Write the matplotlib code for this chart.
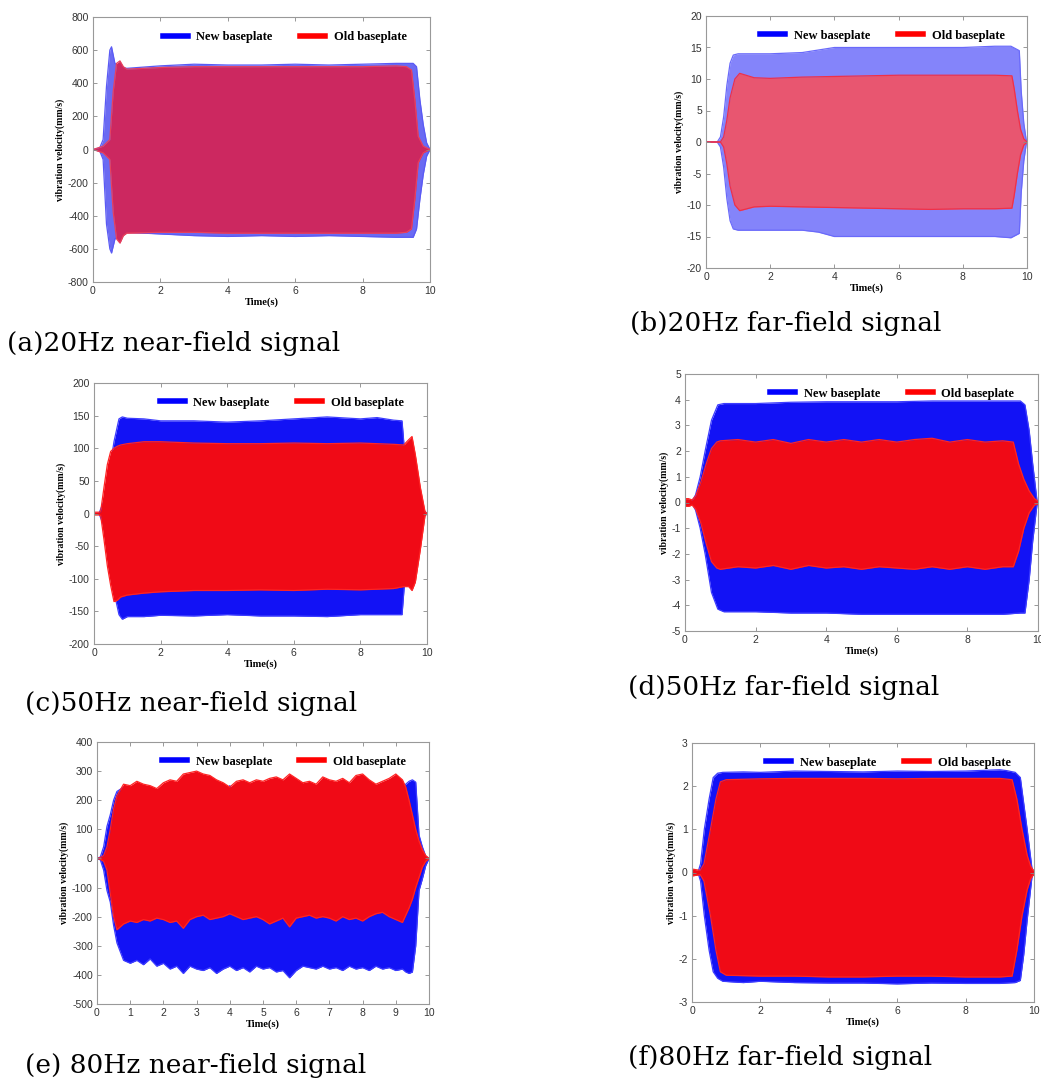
import matplotlib.pyplot as plt
from matplotlib.lines import Line2D

# envelope of each record: time (s), upper peak, lower peak
# (a) 20Hz near-field
t_a_new = [0, 0.2, 0.3, 0.4, 0.5, 0.55, 0.65, 0.8, 1, 2, 3, 4, 5, 6, 7, 8, 9, 9.5, 9.6, 9.7, 9.8, 9.9, 10]
up_a_new = [0, 10, 60, 380, 600, 620, 520, 500, 490, 505, 515, 510, 510, 515, 510, 515, 520, 520, 500, 300, 150, 40, 0]
lo_a_new = [0, -10, -60, -450, -600, -625, -540, -520, -500, -510, -520, -525, -520, -525, -520, -525, -530, -530, -480, -300, -150, -40, 0]
t_a_old = [0, 0.3, 0.5, 0.6, 0.7, 0.8, 0.9, 1, 2, 3, 4, 5, 6, 7, 8, 9, 9.3, 9.45, 9.55, 9.65, 9.8, 10]
up_a_old = [0, 20, 60, 350, 520, 535, 500, 485, 495, 500, 500, 500, 500, 500, 500, 505, 500, 480, 300, 80, 20, 0]
lo_a_old = [0, -20, -60, -380, -540, -565, -520, -505, -500, -500, -505, -505, -505, -505, -505, -505, -500, -480, -300, -80, -20, 0]

# (b) 20Hz far-field
t_b_new = [0, 0.35, 0.45, 0.55, 0.65, 0.75, 0.85, 1, 2, 3, 3.5, 4, 5, 6, 7, 8, 9, 9.5, 9.76, 9.82, 9.9, 9.97, 10]
up_b_new = [0, 0, 0.8, 4, 9, 12.5, 13.8, 14, 14, 14.2, 14.6, 15, 15, 15, 15, 15, 15.2, 15.2, 14.5, 8, 3, 0.5, 0]
lo_b_new = [0, 0, -0.8, -4, -9, -12.5, -13.8, -14, -14, -14, -14.3, -15, -15, -15, -15, -15, -15, -15.2, -14.5, -8, -3, -0.5, 0]
t_b_old = [0, 0.45, 0.55, 0.65, 0.75, 0.9, 1.05, 1.5, 2, 3, 4, 5, 6, 7, 8, 9, 9.53, 9.6, 9.7, 9.8, 9.9, 10]
up_b_old = [0, 0, 0.8, 3.5, 7, 10, 10.9, 10.2, 10.1, 10.3, 10.4, 10.5, 10.6, 10.6, 10.6, 10.6, 10.5, 8.5, 5, 2, 0.5, 0]
lo_b_old = [0, 0, -0.8, -3.5, -7, -10, -10.9, -10.3, -10.2, -10.3, -10.4, -10.5, -10.6, -10.7, -10.6, -10.6, -10.5, -8.5, -5, -2, -0.5, 0]

# (c) 50Hz near-field
t_c_new = [0, 0.15, 0.3, 0.45, 0.6, 0.75, 0.85, 1, 1.5, 2, 3, 4, 5, 6, 7, 8, 8.5, 9, 9.25, 9.35, 9.5, 9.7, 9.9, 10]
up_c_new = [0, 0, 20, 60, 110, 145, 148, 146, 145, 142, 142, 140, 142, 145, 148, 145, 147, 143, 142, 80, 50, 20, 5, 0]
lo_c_new = [0, 0, -20, -60, -120, -155, -162, -158, -158, -156, -157, -155, -157, -157, -158, -155, -155, -155, -155, -90, -60, -25, -5, 0]
t_c_old = [0, 0.15, 0.2, 0.3, 0.4, 0.5, 0.6, 0.7, 0.8, 1.0, 1.5, 2, 3, 4, 5, 6, 7, 8, 9, 9.3, 9.45, 9.55, 9.65, 9.8, 9.94, 10]
up_c_old = [2, 2, 3, 40, 75, 95, 100, 103, 105, 107, 110, 110, 108, 107, 107, 108, 107, 108, 106, 105, 113, 118, 90, 40, 3, 0]
lo_c_old = [-2, -2, -3, -40, -80, -110, -135, -133, -128, -125, -122, -120, -118, -118, -117, -118, -116, -117, -115, -112, -112, -118, -105, -55, -3, 0]

# (d) 50Hz far-field
t_d_new = [0, 0.2, 0.3, 0.43, 0.57, 0.75, 0.93, 1.1, 2, 3, 4, 5, 6, 7, 8, 9, 9.5, 9.63, 9.75, 9.85, 9.97, 10]
up_d_new = [0.05, 0.05, 0.3, 1.0, 2.0, 3.2, 3.8, 3.85, 3.85, 3.9, 3.92, 3.92, 3.92, 3.95, 3.95, 3.95, 3.95, 3.8, 2.8, 1.5, 0.1, 0.05]
lo_d_new = [-0.05, -0.05, -0.3, -1.0, -2.0, -3.5, -4.15, -4.25, -4.25, -4.3, -4.3, -4.35, -4.35, -4.35, -4.35, -4.35, -4.3, -4.3, -3.0, -1.5, -0.1, -0.05]
t_d_old = [0, 0.1, 0.2, 0.3, 0.45, 0.6, 0.75, 0.9, 1.0, 1.5, 2.0, 2.5, 3.0, 3.5, 4.0, 4.5, 5.0, 5.5, 6.0, 6.5, 7.0, 7.5, 8.0, 8.5, 9.0, 9.3, 9.45, 9.6, 9.75, 9.9, 10]
up_d_old = [0.15, 0.15, 0.1, 0.25, 0.8, 1.5, 2.1, 2.35, 2.4, 2.45, 2.35, 2.45, 2.3, 2.45, 2.35, 2.45, 2.35, 2.45, 2.35, 2.45, 2.5, 2.35, 2.45, 2.35, 2.4, 2.35, 1.5, 0.9, 0.45, 0.15, 0.05]
lo_d_old = [-0.15, -0.15, -0.1, -0.25, -0.8, -1.6, -2.3, -2.55, -2.6, -2.5, -2.55, -2.45, -2.6, -2.45, -2.55, -2.5, -2.6, -2.5, -2.55, -2.6, -2.5, -2.6, -2.5, -2.6, -2.5, -2.5, -1.9, -1.0, -0.4, -0.1, -0.05]

# (e) 80Hz near-field
t_e = [0, 0.1, 0.2, 0.3, 0.4, 0.5, 0.6, 0.8, 1.0, 1.2, 1.4, 1.6, 1.8, 2.0, 2.2, 2.4, 2.6, 2.8, 3.0,
       3.2, 3.4, 3.6, 3.8, 4.0, 4.2, 4.4, 4.6, 4.8, 5.0, 5.2, 5.4, 5.6, 5.8, 6.0, 6.2, 6.4, 6.6,
       6.8, 7.0, 7.2, 7.4, 7.6, 7.8, 8.0, 8.2, 8.4, 8.6, 8.8, 9.0, 9.2, 9.3, 9.4, 9.5, 9.6, 9.7,
       9.8, 9.9, 10]
up_e_new = [0, 5, 40, 110, 150, 200, 230, 245, 230, 220, 220, 220, 220, 220, 220, 220, 220, 220, 220,
            220, 220, 220, 220, 250, 220, 220, 220, 220, 220, 220, 220, 220, 220, 220, 220, 220, 220,
            220, 220, 220, 220, 220, 220, 220, 220, 252, 220, 220, 220, 245, 255, 265, 270, 262, 80,
            40, 8, 0]
lo_e_new = [0, -5, -40, -110, -150, -230, -290, -350, -360, -350, -365, -345, -370, -360, -380, -370, -395, -370, -380,
            -385, -375, -395, -380, -370, -385, -375, -390, -370, -380, -375, -390, -385, -410, -385, -370, -375, -380,
            -370, -380, -375, -385, -370, -380, -375, -385, -370, -380, -375, -385, -380, -390, -395, -390, -300, -110,
            -70, -25, 0]
up_e_old = [0, 3, 10, 40, 100, 170, 215, 255, 250, 265, 255, 250, 240, 260, 270, 265, 290, 295, 300,
            290, 285, 270, 260, 245, 265, 270, 260, 270, 265, 275, 280, 270, 290, 275, 260, 265, 255,
            280, 270, 265, 275, 260, 285, 290, 270, 255, 265, 275, 290, 270, 245, 200, 150, 100, 60,
            30, 10, 0]
lo_e_old = [0, -3, -10, -40, -120, -200, -245, -225, -215, -220, -210, -215, -205, -210, -220, -215, -240, -210, -200,
            -195, -210, -205, -200, -190, -200, -210, -205, -200, -210, -225, -215, -205, -235, -205, -200, -195, -205,
            -200, -205, -215, -200, -210, -205, -215, -200, -190, -185, -200, -210, -220, -195, -170, -140, -100, -65,
            -30, -10, 0]

# (f) 80Hz far-field
t_f_new = [0, 0.18, 0.25, 0.36, 0.5, 0.62, 0.75, 0.9, 1.5, 2, 3, 4, 5, 6, 7, 8, 9, 9.2, 9.45, 9.6, 9.7, 9.8, 9.94, 10]
up_f_new = [0.02, 0.02, 0.2, 1.0, 1.7, 2.2, 2.3, 2.32, 2.33, 2.32, 2.35, 2.34, 2.33, 2.35, 2.34, 2.35, 2.38, 2.36, 2.32, 2.2, 1.6, 1.0, 0.1, 0.02]
lo_f_new = [-0.02, -0.02, -0.2, -1.0, -1.8, -2.3, -2.45, -2.52, -2.55, -2.52, -2.55, -2.56, -2.56, -2.58, -2.56, -2.57, -2.57, -2.56, -2.55, -2.5, -1.9, -1.1, -0.1, -0.02]
t_f_old = [0, 0.24, 0.35, 0.54, 0.7, 0.83, 1.0, 2, 3, 4, 5, 6, 7, 8, 9, 9.36, 9.5, 9.65, 9.8, 9.9, 9.98, 10]
up_f_old = [0.08, 0.05, 0.2, 1.0, 1.7, 2.1, 2.15, 2.17, 2.18, 2.18, 2.18, 2.17, 2.18, 2.18, 2.18, 2.15, 1.7, 1.0, 0.4, 0.15, 0.05, 0.05]
lo_f_old = [-0.08, -0.05, -0.2, -1.0, -1.8, -2.3, -2.38, -2.4, -2.4, -2.42, -2.42, -2.4, -2.4, -2.42, -2.42, -2.4, -1.8, -1.0, -0.4, -0.15, -0.05, -0.05]

captions = ['(a)20Hz near-field signal', '(b)20Hz far-field signal', '(c)50Hz near-field signal',
            '(d)50Hz far-field signal', '(e) 80Hz near-field signal', '(f)80Hz far-field signal']

W, H = 1041, 1079
serif = 'Liberation Serif'
plt.rcParams['font.family'] = 'Liberation Sans'
plt.rcParams['axes.unicode_minus'] = False

fig = plt.figure(figsize=(W / 100, H / 100), dpi=100)


def add_ax(x0, y0, x1, y1):
    # pixel box -> figure fraction
    return fig.add_axes([x0 / W, 1 - y1 / H, (x1 - x0) / W, (y1 - y0) / H])


def draw(ax, new, old, ylim, yticks, xticks, cols):
    # cols: blue fill, blue edge, red fill, red edge
    bf, be, rf, re = cols
    ax.fill_between(new[0], new[2], new[1], color=bf, lw=0, zorder=1)
    for y in new[1:]:
        ax.plot(new[0], y, color=be, lw=0.9, zorder=1.1)
    ax.fill_between(old[0], old[2], old[1], color=rf, lw=0, zorder=1.2)
    for y in old[1:]:
        ax.plot(old[0], y, color=re, lw=0.9, zorder=1.3)
    ax.set_xlim(0, 10)
    ax.set_ylim(*ylim)
    ax.set_xticks(xticks)
    ax.set_yticks(yticks)
    ax.tick_params(direction='in', top=True, right=True, length=3, width=0.6,
                   color='#888888', labelsize=7.5, labelcolor='#333333', pad=3)
    for s in ax.spines.values():
        s.set_color('#999999')
        s.set_linewidth(0.8)
    ax.set_ylabel('vibration velocity(mm/s)', family=serif, weight='bold', fontsize=7, labelpad=2)
    ax.set_xlabel('Time(s)', family=serif, weight='bold', fontsize=7.5, labelpad=1)
    handles = [Line2D([], [], color='#0000ff', lw=4), Line2D([], [], color='#ff0000', lw=4)]
    ax.legend(handles, ['New baseplate', 'Old baseplate'], ncol=2, loc='upper right',
              bbox_to_anchor=(0.965, 0.99), frameon=False, handlelength=2.0, columnspacing=2.2,
              handletextpad=0.7, prop={'family': serif, 'weight': 'bold', 'size': 9})


x2 = [0, 2, 4, 6, 8, 10]
solid = ('#1212f5', '#3c3cff', '#f00a16', '#ff2424')

ax = add_ax(93, 17, 430, 282)
draw(ax, (t_a_new, up_a_new, lo_a_new), (t_a_old, up_a_old, lo_a_old), (-800, 800),
     range(-800, 801, 200), x2, ('#6a6af2', '#5a5af5', '#cc2860', '#e8405c'))
ax = add_ax(706, 16, 1027, 268)
draw(ax, (t_b_new, up_b_new, lo_b_new), (t_b_old, up_b_old, lo_b_old), (-20, 20),
     range(-20, 21, 5), x2, ('#8484fa', '#6a6afa', '#e85670', '#f03048'))
ax = add_ax(94, 383, 427, 644)
draw(ax, (t_c_new, up_c_new, lo_c_new), (t_c_old, up_c_old, lo_c_old), (-200, 200),
     range(-200, 201, 50), x2, solid)
ax = add_ax(685, 374, 1038, 631)
draw(ax, (t_d_new, up_d_new, lo_d_new), (t_d_old, up_d_old, lo_d_old), (-5, 5),
     range(-5, 6), x2, solid)
ax = add_ax(97, 742, 429, 1004)
draw(ax, (t_e, up_e_new, lo_e_new), (t_e, up_e_old, lo_e_old), (-500, 400),
     range(-500, 401, 100), range(0, 11), solid)
ax = add_ax(692, 743, 1034, 1002)
draw(ax, (t_f_new, up_f_new, lo_f_new), (t_f_old, up_f_old, lo_f_old), (-3, 3),
     range(-3, 4), x2, solid)

# captions under each panel
cap_pos = [(7, 343), (630, 323), (25, 703), (628, 688), (25, 1065), (628, 1057)]
for txt, (cx, cy) in zip(captions, cap_pos):
    fig.text(cx / W, 1 - cy / H, txt, family='DejaVu Serif', fontsize=19, va='center', ha='left')

fig.savefig('out.png', dpi=100)
